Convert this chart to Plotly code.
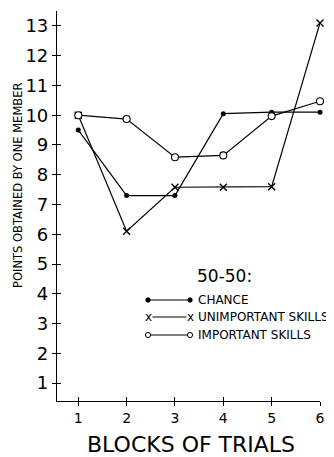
import plotly.graph_objects as go

blocks = [1, 2, 3, 4, 5, 6]
chance = [9.5, 7.3, 7.3, 10.05, 10.1, 10.1]
unimportant = [10.0, 6.1, 7.58, 7.58, 7.6, 13.1]
important = [10.0, 9.87, 8.59, 8.65, 9.97, 10.47]
y_ticks = list(range(1, 14))
x_ticks = [1, 2, 3, 4, 5, 6]

FONT = "DejaVu Sans"
L, R, T, B = 49, 22, 3, 64
W, H = 334, 457
PW, PH = W - L - R, H - T - B


def px(xp):
    return (xp - L) / PW


def py(yp):
    return (H - B - yp) / PH


fig = go.Figure()
line = dict(color="black", width=1.2)
fig.add_trace(go.Scatter(x=blocks, y=chance, mode="lines+markers", line=line,
                         marker=dict(symbol="circle", size=5, color="black"),
                         cliponaxis=False, showlegend=False, name="CHANCE"))
fig.add_trace(go.Scatter(x=blocks, y=unimportant, mode="lines+markers", line=line,
                         marker=dict(symbol="x-thin", size=7, color="black",
                                     line=dict(color="black", width=1.4)),
                         cliponaxis=False, showlegend=False, name="UNIMPORTANT SKILLS"))
fig.add_trace(go.Scatter(x=blocks, y=important, mode="lines+markers", line=line,
                         marker=dict(symbol="circle", size=7, color="white",
                                     line=dict(color="black", width=1.1)),
                         cliponaxis=False, showlegend=False, name="IMPORTANT SKILLS"))
# empty trace to hold the inside-tick overlay axes
fig.add_trace(go.Scatter(x=[], y=[], xaxis="x2", yaxis="y2", showlegend=False))

xr = [0.56, 6.0]
yr = [0.4, 13.5]
fig.update_layout(
    width=W, height=H,
    margin=dict(l=L, r=R, t=T, b=B),
    paper_bgcolor="white", plot_bgcolor="white",
    font=dict(family=FONT, color="black"),
    xaxis=dict(range=xr, tickvals=x_ticks, ticktext=[str(v) for v in x_ticks],
               ticks="outside", ticklen=4, tickwidth=1, tickcolor="black",
               showline=True, linecolor="black", linewidth=1.2,
               showgrid=False, zeroline=False, tickfont=dict(size=14, family=FONT)),
    yaxis=dict(range=yr, tickvals=y_ticks, ticktext=[str(v) for v in y_ticks],
               ticks="outside", ticklen=4, tickwidth=1, tickcolor="black",
               showline=True, linecolor="black", linewidth=1.2,
               showgrid=False, zeroline=False, tickfont=dict(size=18, family=FONT)),
    xaxis2=dict(range=xr, overlaying="x", tickvals=x_ticks, ticks="inside", ticklen=4,
                tickcolor="black", showticklabels=False, showline=False,
                showgrid=False, zeroline=False),
    yaxis2=dict(range=yr, overlaying="y", tickvals=y_ticks, ticks="inside", ticklen=4,
                tickcolor="black", showticklabels=False, showline=False,
                showgrid=False, zeroline=False),
)

ann = []
ann.append(dict(text="BLOCKS OF TRIALS", xref="paper", yref="paper", x=px(183), y=py(436),
                xanchor="center", yanchor="middle", showarrow=False,
                font=dict(size=22, family=FONT)))
ann.append(dict(text="POINTS OBTAINED BY ONE MEMBER", xref="paper", yref="paper",
                x=px(10), y=py(178), textangle=-90, xanchor="center", yanchor="middle",
                showarrow=False, font=dict(size=11.5, family=FONT)))
ann.append(dict(text="50-50:", xref="paper", yref="paper", x=px(216), y=py(268),
                xanchor="center", yanchor="middle", showarrow=False,
                font=dict(size=17, family=FONT)))

legend_rows = [("CHANCE", 292, "dot"), ("UNIMPORTANT SKILLS", 309, "x"),
               ("IMPORTANT SKILLS", 327, "open")]
shapes = []
x0p, x1p = 140, 182
for label, ypix, kind in legend_rows:
    ann.append(dict(text=label, xref="paper", yref="paper", x=px(188), y=py(ypix),
                    xanchor="left", yanchor="middle", showarrow=False,
                    font=dict(size=12, family=FONT)))
    shapes.append(dict(type="line", xref="paper", yref="paper", x0=px(x0p), x1=px(x1p),
                       y0=py(ypix), y1=py(ypix), line=dict(color="black", width=1.1)))
    for xe in (x0p, x1p):
        if kind == "x":
            ann.append(dict(text="x", xref="paper", yref="paper", x=px(xe), y=py(ypix),
                            xanchor="center", yanchor="middle", showarrow=False,
                            bgcolor="white", borderpad=0,
                            font=dict(size=12, family=FONT)))
        else:
            r = 2.2 if kind == "dot" else 2.6
            shapes.append(dict(type="circle", xref="paper", yref="paper",
                               xsizemode="pixel", ysizemode="pixel",
                               xanchor=px(xe), yanchor=py(ypix),
                               x0=-r, x1=r, y0=-r, y1=r,
                               fillcolor="black" if kind == "dot" else "white",
                               line=dict(color="black", width=1)))

fig.update_layout(annotations=ann, shapes=shapes)
fig.write_html("out.html")
